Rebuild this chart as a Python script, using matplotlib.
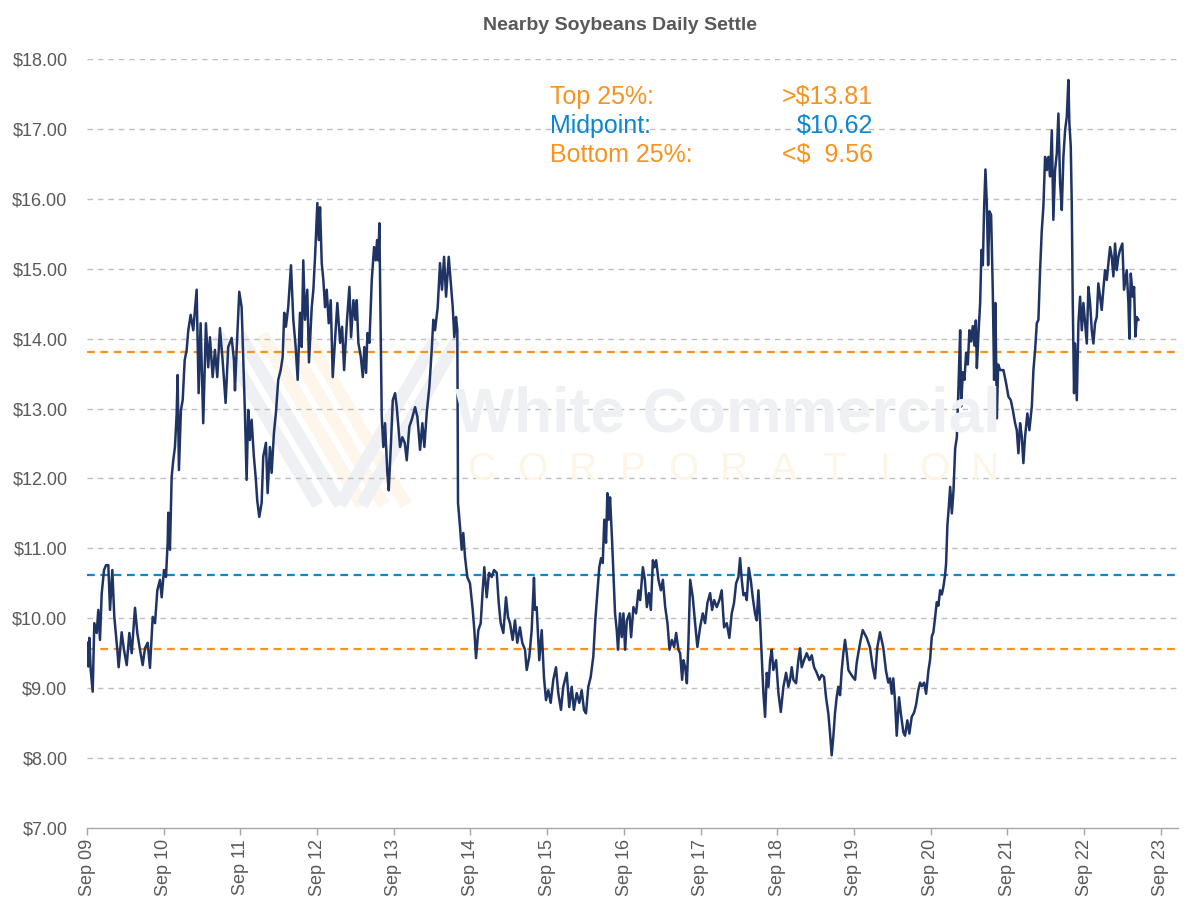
import matplotlib
matplotlib.use("Agg")
import matplotlib.pyplot as plt
import matplotlib.dates as mdates
from matplotlib import font_manager
from datetime import datetime, timedelta

# ---------------- data (decimal year, $/bu) ----------------
years = [
 2009.666,2009.683,2009.696,2009.714,2009.740,2009.761,2009.792,2009.813,2009.835,2009.858,
 2009.888,2009.914,2009.944,2009.966,2009.996,2010.022,2010.061,2010.079,2010.118,2010.148,
 2010.184,2010.218,2010.249,2010.292,2010.322,2010.357,2010.392,2010.422,2010.457,2010.487,
 2010.523,2010.553,2010.583,2010.618,2010.640,2010.670,2010.696,2010.718,2010.726,2010.748,
 2010.770,2010.791,2010.813,2010.835,2010.848,2010.865,2010.891,2010.914,2010.940,2010.966,
 2010.987,2011.018,2011.052,2011.096,2011.122,2011.148,2011.182,2011.217,2011.247,2011.270,
 2011.305,2011.335,2011.365,2011.400,2011.435,2011.474,2011.508,2011.553,2011.583,2011.596,
 2011.618,2011.652,2011.683,2011.704,2011.726,2011.748,
 2011.769,2011.791,2011.813,2011.843,2011.869,2011.886,2011.913,2011.944,2011.965,2012.000,
 2012.022,2012.052,2012.074,2012.104,2012.130,2012.160,2012.192,2012.218,2012.238,2012.260,
 2012.290,2012.326,2012.356,2012.387,2012.413,2012.443,2012.465,2012.486,2012.508,2012.538,
 2012.560,2012.596,2012.617,2012.639,2012.669,2012.687,2012.704,2012.726,2012.747,2012.769,
 2012.791,2012.817,2012.843,2012.869,2012.899,2012.929,2012.965,2012.991,2013.017,2013.052,
 2013.086,2013.108,2013.138,2013.164,2013.182,2013.203,2013.235,2013.261,2013.281,2013.304,
 2013.321,2013.347,2013.378,2013.408,2013.430,2013.447,2013.464,2013.477,2013.495,2013.508,
 2013.529,2013.551,2013.581,2013.599,2013.626,2013.652,2013.682,2013.704,2013.747,2013.777,
 2013.808,2013.834,2013.868,2013.899,2013.943,2013.973,2014.008,2014.038,2014.064,2014.095,
 2014.129,2014.160,2014.181,2014.203,2014.238,2014.268,2014.294,2014.321,2014.347,2014.382,
 2014.408,2014.434,2014.455,2014.477,2014.494,2014.503,2014.529,2014.551,2014.572,2014.594,
 2014.624,2014.659,2014.695,2014.716,2014.738,2014.768,2014.799,2014.825,2014.846,2014.877,
 2014.907,2014.943,2014.973,2015.008,2015.034,2015.060,2015.094,2015.129,2015.155,2015.181,
 2015.216,2015.246,2015.276,2015.311,2015.341,2015.377,2015.399,2015.433,2015.464,2015.494,
 2015.507,2015.529,2015.563,2015.595,2015.624,2015.651,2015.681,2015.712,2015.746,2015.781,
 2015.811,2015.846,2015.876,2015.921,2015.954,2015.986,2016.015,2016.051,2016.085,2016.116,
 2016.146,2016.172,2016.202,2016.233,2016.267,2016.293,2016.319,2016.345,2016.368,2016.390,
 2016.410,2016.433,2016.450,2016.468,2016.485,2016.511,2016.528,2016.550,2016.572,2016.589,
 2016.615,2016.637,2016.659,2016.681,2016.703,2016.737,2016.759,2016.789,2016.824,2016.855,
 2016.877,2016.912,2016.938,2016.964,2016.990,2017.016,2017.042,2017.063,2017.085,2017.115,
 2017.147,2017.173,2017.203,2017.233,2017.259,2017.290,2017.320,2017.346,2017.376,2017.398,
 2017.424,2017.441,2017.464,2017.486,2017.507,2017.529,2017.550,2017.563,2017.593,2017.623,
 2017.658,2017.693,2017.723,2017.754,2017.789,2017.815,2017.841,2017.876,2017.910,2017.940,
 2017.971,2018.006,2018.040,2018.071,2018.101,2018.128,2018.158,2018.180,2018.202,2018.223,
 2018.245,2018.267,2018.293,2018.319,2018.345,2018.375,2018.397,2018.419,2018.441,2018.463,
 2018.484,2018.506,2018.528,2018.550,2018.572,2018.593,2018.614,2018.650,2018.680,2018.711,
 2018.745,2018.780,2018.810,2018.832,2018.854,2018.875,2018.910,2018.940,2018.962,2018.984,
 2019.014,2019.049,2019.084,2019.115,2019.145,2019.180,2019.214,2019.245,2019.275,2019.301,
 2019.331,2019.353,2019.375,2019.396,2019.418,2019.440,2019.461,2019.484,2019.506,2019.527,
 2019.549,2019.571,2019.593,2019.615,2019.650,2019.680,2019.701,2019.722,2019.753,2019.780,
 2019.832,2019.875,2019.910,2019.940,2019.970,2020.005,2020.027,2020.048,2020.083,2020.113,
 2020.135,2020.158,2020.178,2020.201,2020.223,2020.253,2020.275,2020.309,2020.331,2020.361,
 2020.387,2020.418,2020.448,2020.474,2020.505,2020.527,2020.549,2020.579,2020.605,2020.635,
 2020.657,2020.679,2020.700,2020.722,2020.744,2020.765,2020.787,2020.809,2020.830,2020.852,
 2020.865,2020.882,2020.901,2020.918,2020.940,2020.961,2020.983,2021.005,2021.026,2021.048,
 2021.061,2021.083,2021.104,2021.126,2021.148,2021.169,2021.191,2021.213,2021.234,2021.253,
 2021.266,2021.287,2021.309,2021.326,2021.344,2021.361,2021.378,2021.396,2021.413,2021.430,
 2021.452,2021.474,2021.491,2021.508,2021.527,2021.544,2021.570,2021.613,2021.648,2021.678,
 2021.709,2021.735,2021.765,2021.787,2021.808,2021.830,2021.852,2021.873,2021.895,2021.925,
 2021.951,2021.983,2022.004,2022.026,2022.048,2022.069,2022.091,2022.113,2022.134,2022.156,
 2022.178,2022.199,2022.221,2022.244,2022.264,2022.286,2022.309,2022.330,2022.352,2022.374,
 2022.395,2022.417,2022.439,2022.460,2022.473,2022.491,2022.504,2022.517,2022.534,2022.547,
 2022.570,2022.591,2022.613,2022.635,2022.656,2022.678,2022.700,2022.721,2022.743,2022.765,
 2022.786,2022.808,2022.830,2022.851,2022.873,2022.895,2022.916,2022.938,2022.961,2022.982,
 2023.004,2023.026,2023.047,2023.069,2023.091,2023.112,2023.134,2023.164,2023.186,2023.221,
 2023.243,2023.256,2023.274,2023.300,2023.317,2023.334,2023.352,2023.373,
]
prices = [
 9.65,9.31,9.72,9.26,8.95,9.93,9.79,10.12,9.69,10.36,
 10.69,10.76,10.76,10.12,10.69,10.02,9.55,9.30,9.80,9.55,
 9.33,9.79,9.50,10.15,9.79,9.55,9.33,9.57,9.65,9.29,
 10.02,9.93,10.40,10.55,10.30,10.69,10.59,11.08,11.51,10.98,
 12.02,12.26,12.45,12.91,13.48,12.12,12.98,13.12,13.69,13.84,
 14.12,14.34,14.12,14.70,13.22,14.22,12.79,14.22,13.59,14.02,
 13.45,13.84,13.45,14.15,13.69,13.08,13.88,14.01,13.69,13.26,
 13.84,14.67,14.45,13.69,12.94,11.98,
 12.98,12.55,12.84,12.31,11.98,11.69,11.45,11.65,12.31,12.51,
 11.79,12.45,12.08,12.65,12.94,13.41,13.55,13.74,14.37,14.17,
 14.45,15.05,14.27,13.88,13.41,14.37,13.88,15.12,14.27,14.70,
 13.66,14.45,14.70,15.17,15.94,15.41,15.88,15.08,14.84,14.45,
 14.70,14.22,14.55,13.45,13.98,14.51,13.94,14.17,13.55,14.22,
 14.74,14.02,14.55,14.27,14.55,13.94,13.74,13.45,13.88,13.51,
 14.08,13.94,14.84,15.31,15.12,15.41,15.12,15.65,13.98,12.88,
 12.45,12.79,12.08,11.83,12.45,13.12,13.22,13.02,12.45,12.59,
 12.51,12.26,12.74,12.84,13.02,12.88,12.41,12.79,12.45,12.94,
 13.31,13.84,14.27,14.12,14.45,15.08,14.70,15.17,14.60,15.17,
 14.80,14.45,14.02,14.31,14.12,11.65,11.31,10.98,11.22,10.88,
 10.59,10.50,10.12,9.83,9.43,9.83,9.93,10.40,10.73,10.30,
 10.65,10.59,10.69,10.65,10.22,9.93,9.79,10.30,10.02,9.93,
 9.69,9.97,9.65,9.87,9.65,9.55,9.26,9.45,9.83,10.58,
 10.12,10.16,9.40,9.83,9.16,8.83,8.97,8.79,9.12,9.30,
 8.93,8.69,9.02,9.22,8.73,9.02,8.69,8.93,8.79,8.97,
 8.69,8.64,9.02,9.16,9.45,9.97,10.36,10.73,10.86,10.79,
 11.41,11.08,11.79,11.41,11.73,11.12,10.65,10.07,9.83,9.55,
 10.07,9.73,10.07,9.55,9.97,10.07,9.73,10.16,10.07,10.40,
 10.26,10.73,10.55,10.16,10.36,10.12,10.83,10.73,10.83,10.55,
 10.40,10.55,10.16,9.93,9.55,9.69,9.59,9.79,9.55,9.50,
 9.12,9.40,9.30,9.07,9.69,10.55,10.40,10.30,9.93,9.59,
 9.87,10.07,9.93,10.22,10.36,10.12,10.26,10.16,10.26,10.40,
 9.87,9.93,9.72,10.07,10.22,10.50,10.59,10.86,10.55,10.33,
 10.36,10.26,10.72,10.55,10.30,10.07,9.97,10.40,9.97,9.45,
 8.93,8.59,9.22,9.02,9.40,9.55,9.26,9.40,8.93,8.66,
 9.02,9.22,9.02,9.12,9.30,9.12,9.07,9.40,9.57,9.30,
 9.40,9.50,9.40,9.47,9.30,9.22,9.12,9.19,9.16,8.87,
 8.64,8.36,8.04,8.30,8.64,8.87,9.02,8.90,9.26,9.50,
 9.69,9.50,9.26,9.22,9.16,9.12,9.36,9.50,9.69,9.83,
 9.72,9.58,9.30,9.14,9.58,9.80,9.69,9.58,9.25,9.08,
 9.14,8.92,9.14,8.81,8.32,8.87,8.65,8.37,8.32,8.54,
 8.35,8.59,8.65,8.76,8.98,9.08,9.03,9.08,8.92,9.25,
 9.41,9.74,9.80,10.02,10.23,10.18,10.40,10.34,10.45,10.62,
 10.78,11.33,11.60,11.88,11.50,11.82,12.43,12.59,13.30,14.12,
 13.03,13.52,13.41,13.80,13.63,14.12,13.96,14.18,13.90,14.26,
 13.58,14.07,14.51,15.27,15.05,15.88,16.42,15.93,15.05,15.82,
 15.77,14.67,13.41,14.51,12.86,13.63,13.55,13.55,13.36,13.17,
 13.12,12.98,12.79,12.69,12.36,12.79,12.60,12.22,12.60,12.93,
 12.69,13.03,13.55,13.84,14.22,14.27,14.98,15.55,15.89,16.60,
 16.41,16.60,16.32,16.98,15.70,16.41,16.65,17.22,16.22,15.84,
 16.60,16.98,17.17,17.70,17.08,16.75,15.94,14.51,13.22,13.93,
 13.12,14.22,14.60,14.12,14.51,14.22,13.93,14.74,14.51,14.12,
 13.93,14.22,14.31,14.79,14.60,14.41,14.70,14.98,14.84,15.08,
 15.31,15.17,14.89,15.36,14.98,15.17,15.27,15.36,14.70,14.98,
 14.51,14.00,14.93,14.60,14.74,14.03,14.31,14.27,
]

band_levels = [13.81, 10.62, 9.56]
band_colors = ["#F7931E", "#0A86D2", "#F7931E"]
legend_labels = ["Top 25%:", "Midpoint:", "Bottom 25%:"]
legend_values = [">$13.81", "$10.62", "<$  9.56"]
tick_years = list(range(2009, 2024))
y_ticks = list(range(7, 19))
title = "Nearby Soybeans Daily Settle"


def to_date(t):
    y = int(t)
    start = datetime(y, 1, 1)
    ndays = (datetime(y + 1, 1, 1) - start).days
    return start + timedelta(days=(t - y) * ndays)


dates = [to_date(t) for t in years]

avail = {f.name for f in font_manager.fontManager.ttflist}
base_font = "Liberation Sans" if "Liberation Sans" in avail else "DejaVu Sans"
title_font = "Liberation Sans Narrow" if "Liberation Sans Narrow" in avail else base_font
plt.rcParams["font.family"] = [base_font, "DejaVu Sans"]

TXT = "#595959"
fig = plt.figure(figsize=(12, 9.11), dpi=100)
ax = fig.add_axes([87 / 1200, 1 - 828 / 911, (1178 - 87) / 1200, (828 - 59) / 911])

# watermark (logo stripes + text), very faint
def fig_line(x0, y0, x1, y1, color, lw):
    fig.add_artist(plt.Line2D([x0 / 1200, x1 / 1200], [1 - y0 / 911, 1 - y1 / 911],
                              color=color, lw=lw, solid_capstyle="butt", zorder=0))

for dx in [0, 22, 44]:
    fig_line(218 + dx, 335, 318 + dx, 505, "#EEF0F4", 9)
for dx in [0, 22, 44]:
    fig_line(262 + dx, 335, 362 + dx, 505, "#FEF6EA", 9)
for dx in [0, 22]:
    fig_line(340 + dx, 505, 435 + dx, 340, "#EEF0F4", 9)

fig.text(728 / 1200, 1 - 415 / 911, "White Commercial", fontsize=45, fontweight="bold",
         color="#EEF0F4", ha="center", va="center", zorder=0, family=base_font)
corp = "CORPORATION"
for i, ch in enumerate(corp):
    xc = 482 + i * (985 - 482) / (len(corp) - 1)
    fig.text(xc / 1200, 1 - 470 / 911, ch, fontsize=28, color="#FEF5E6",
             ha="center", va="center", zorder=0, family=base_font)

ax.patch.set_alpha(0)

# grid lines
for v in y_ticks[1:]:
    ax.axhline(v, color="#BFBFBF", lw=1.0, ls=(0, (4, 3.5)), zorder=1)

# quartile / midpoint lines
for lvl, c in zip(band_levels, band_colors):
    ax.axhline(lvl, color=c, lw=1.6, ls=(0, (3.5, 2.5)), zorder=2)

ax.plot(dates, prices, color="#1F3464", lw=1.8, zorder=3, solid_joinstyle="round")

ax.set_ylim(7, 18)
ax.set_yticks(y_ticks)
ax.set_yticklabels([f"${v:.2f}" for v in y_ticks])
ax.set_xlim(datetime(2009, 9, 1), to_date(2023.89))
xt = [datetime(y, 9, 1) for y in tick_years]
ax.set_xticks(xt)
ax.set_xticklabels([d.strftime("Sep %y") for d in xt], rotation=90)

for s in ["top", "right", "left"]:
    ax.spines[s].set_visible(False)
ax.spines["bottom"].set_color("#A6A6A6")
ax.spines["bottom"].set_linewidth(1.0)
ax.tick_params(axis="x", colors="#A6A6A6", length=5, width=1, labelcolor=TXT,
               labelsize=13, pad=3)
ax.tick_params(axis="y", length=0, labelcolor=TXT, labelsize=13, pad=14)

fig.text(620 / 1200, 1 - 25 / 911, title, fontsize=14, fontweight="bold", color=TXT,
         ha="center", va="center", family=[title_font, "DejaVu Sans"])

for i, (lab, val, c) in enumerate(zip(legend_labels, legend_values,
                                      [band_colors[0], band_colors[1], band_colors[2]])):
    yy = 1 - (97 + 29 * i) / 911
    fig.text(550 / 1200, yy, lab, fontsize=18, color=c, ha="left", va="center")
    fig.text(873 / 1200, yy, val, fontsize=18, color=c, ha="right", va="center")

fig.savefig("out.png", dpi=100)
